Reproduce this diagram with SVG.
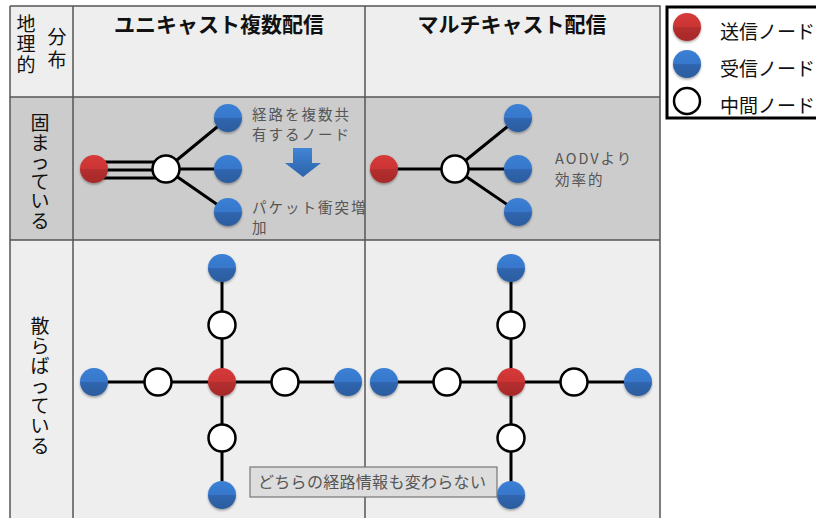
<svg xmlns="http://www.w3.org/2000/svg" width="816" height="518" viewBox="0 0 816 518">
<style>
text{font-family:"Noto Sans CJK JP","Liberation Sans",sans-serif;}
.hdr{font-size:21px;font-weight:bold;fill:#111;text-anchor:middle;}
.lbl{font-size:19px;fill:#111;text-anchor:middle;}
.note{font-size:14.5px;fill:#555;letter-spacing:2px;}
.leg{font-size:19px;fill:#111;}
.grid{stroke:#555;stroke-width:1.5;fill:none;}
.edge{stroke:#000;stroke-width:3;fill:none;}
.snd{fill:url(#gRed);filter:url(#sh);}
.rcv{fill:url(#gBlue);filter:url(#sh);}
.mid{fill:#fff;stroke:#000;stroke-width:2.5;}
</style>
<defs>
<linearGradient id="gRed" x1="0" y1="0" x2="0" y2="1">
<stop offset="0" stop-color="#d63a3a"/><stop offset="0.5" stop-color="#cc3434"/><stop offset="0.5" stop-color="#b52e2e"/><stop offset="1" stop-color="#a62a2a"/>
</linearGradient>
<linearGradient id="gBlue" x1="0" y1="0" x2="0" y2="1">
<stop offset="0" stop-color="#3c80d4"/><stop offset="0.5" stop-color="#3677cc"/><stop offset="0.5" stop-color="#3066b0"/><stop offset="1" stop-color="#2c5c9e"/>
</linearGradient>
<linearGradient id="gArrow" x1="0" y1="0" x2="0" y2="1">
<stop offset="0" stop-color="#4185d6"/><stop offset="1" stop-color="#2d62a8"/>
</linearGradient>
<filter id="sh" x="-30%" y="-30%" width="160%" height="170%">
<feDropShadow dx="0" dy="1.5" stdDeviation="1" flood-color="#000" flood-opacity="0.35"/>
</filter>
</defs>

<g id="table">
<rect x="10" y="6" width="650" height="91" fill="#eeeeee"/>
<rect x="10" y="97" width="650" height="143" fill="#cccccc"/>
<rect x="10" y="240" width="650" height="290" fill="#eeeeee"/>
<path class="grid" d="M10 6H660V530M10 6V530M73 6V530M365 6V530M10 97H660M10 240H660"/>
</g>

<g id="headers">
<text x="26" y="31" class="lbl">地</text>
<text x="26" y="51" class="lbl">理</text>
<text x="26" y="72" class="lbl">的</text>
<text x="57" y="44" class="lbl">分</text>
<text x="57" y="67" class="lbl">布</text>
<text x="219" y="32" class="hdr">ユニキャスト複数配信</text>
<text x="512" y="32" class="hdr">マルチキャスト配信</text>
<text class="lbl" x="40" y="130">固<tspan x="40" dy="19.5">ま</tspan><tspan x="40" dy="19.5">っ</tspan><tspan x="40" dy="19.5">て</tspan><tspan x="40" dy="19.5">い</tspan><tspan x="40" dy="19.5">る</tspan></text>
<text class="lbl" x="40" y="333">散<tspan x="40" dy="20">ら</tspan><tspan x="40" dy="20">ば</tspan><tspan x="40" dy="20">っ</tspan><tspan x="40" dy="20">て</tspan><tspan x="40" dy="20">い</tspan><tspan x="40" dy="20">る</tspan></text>
</g>

<g id="connectors">
<path class="edge" d="M94 162H166M94 170H166M94 178H166M166 169L228 118M166 169H228M166 169L228 212"/>
<path class="edge" d="M384 169H455M455 169L518 118M455 169H518M455 169L518 212"/>
<path class="edge" d="M94 382H348M222 268V495"/>
<path class="edge" d="M384 382H638M511 268V495"/>
</g>

<g id="n-uni-fixed">
<circle class="snd" cx="94" cy="169" r="14"/>
<circle class="mid" cx="166" cy="169" r="13.5"/>
<circle class="rcv" cx="228" cy="118" r="14"/>
<circle class="rcv" cx="228" cy="169" r="14"/>
<circle class="rcv" cx="228" cy="212" r="14"/>
</g>
<g id="n-multi-fixed">
<circle class="snd" cx="384" cy="169" r="14"/>
<circle class="mid" cx="455" cy="169" r="13.5"/>
<circle class="rcv" cx="518" cy="118" r="14"/>
<circle class="rcv" cx="518" cy="169" r="14"/>
<circle class="rcv" cx="518" cy="212" r="14"/>
</g>
<g id="n-uni-spread">
<circle class="rcv" cx="222" cy="268" r="14"/>
<circle class="mid" cx="222" cy="325" r="13.5"/>
<circle class="mid" cx="222" cy="438" r="13.5"/>
<circle class="rcv" cx="222" cy="495" r="14"/>
<circle class="rcv" cx="94" cy="382" r="14"/>
<circle class="mid" cx="158" cy="382" r="13.5"/>
<circle class="mid" cx="285" cy="382" r="13.5"/>
<circle class="rcv" cx="348" cy="382" r="14"/>
<circle class="snd" cx="222" cy="382" r="14"/>
</g>
<g id="n-multi-spread">
<circle class="rcv" cx="511" cy="268" r="14"/>
<circle class="mid" cx="511" cy="325" r="13.5"/>
<circle class="mid" cx="511" cy="438" r="13.5"/>
<circle class="rcv" cx="511" cy="495" r="14"/>
<circle class="rcv" cx="384" cy="382" r="14"/>
<circle class="mid" cx="447" cy="382" r="13.5"/>
<circle class="mid" cx="574" cy="382" r="13.5"/>
<circle class="rcv" cx="638" cy="382" r="14"/>
<circle class="snd" cx="511" cy="382" r="14"/>
</g>

<g id="notes">
<text class="note" x="252" y="120">経路を複数共</text>
<text class="note" x="252" y="140">有するノード</text>
<path d="M293 148H312V163H321L303 177L285 163H293Z" fill="url(#gArrow)"/>
<text class="note" x="252" y="213" letter-spacing="1">パケット衝突増</text>
<text class="note" x="252" y="233">加</text>
<text class="note" x="555" y="164" letter-spacing="0.5">AODVより</text>
<text class="note" x="555" y="185" letter-spacing="1">効率的</text>
</g>

<g id="callout">
<rect x="250" y="467" width="247" height="30" fill="#dddddd" stroke="#777" stroke-width="1.2"/>
<text x="258" y="488" font-size="16" fill="#555" letter-spacing="0.3">どちらの経路情報も変わらない</text>
</g>

<g id="legend">
<rect x="667" y="7" width="160" height="111" fill="#fff" stroke="#000" stroke-width="3"/>
<circle class="snd" cx="687" cy="27" r="14"/>
<circle class="rcv" cx="687" cy="64" r="14"/>
<circle cx="687" cy="101" r="13" fill="#fff" stroke="#000" stroke-width="2.5"/>
<text class="leg" x="720" y="39">送信ノード</text>
<text class="leg" x="720" y="76">受信ノード</text>
<text class="leg" x="720" y="113">中間ノード</text>
</g>
</svg>
